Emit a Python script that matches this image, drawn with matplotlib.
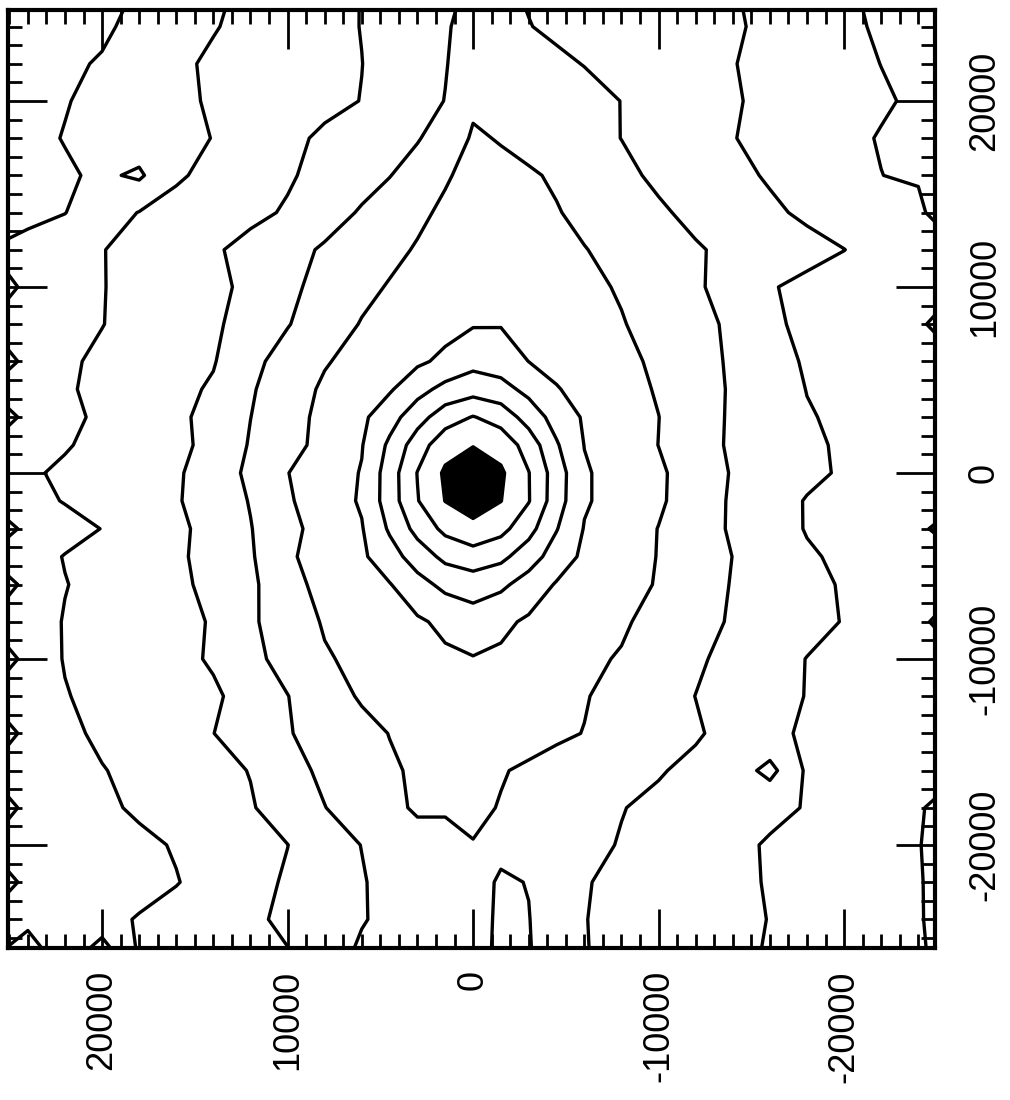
import numpy as np
import matplotlib
matplotlib.use("Agg")
import matplotlib.pyplot as plt
from matplotlib.ticker import MultipleLocator, FixedLocator, FixedFormatter

plt.rcParams['font.family'] = ['Liberation Sans', 'DejaVu Sans']
plt.rcParams['axes.unicode_minus'] = False

# grid nodes of the map (left -> right, top -> bottom as drawn)
x_nodes = [26000, 24000, 22000, 20000, 18000, 16000, 14000, 12000, 10000, 8000, 6000, 4500, 3000, 1500, 0,
           -1500, -3000, -4500, -6000, -8000, -10000, -12000, -14000, -16000, -18000, -20000, -22000, -24000, -26000]
y_nodes = [26000, 24000, 22000, 20000, 18000, 16000, 14000, 12000, 10000, 8000, 6000, 4500, 3000, 1500, 0,
           -1500, -3000, -4500, -6000, -8000, -10000, -12000, -14000, -16000, -18000, -20000, -22000, -24000, -26000]

# map values, one row per y node
field_rows = [
    [0.5, 0.6, 0.7, 0.8, 1.04, 1.44, 1.84, 2.17, 2.45, 2.73, 3.02, 3.28, 3.53, 3.79, 4.15, 4.1, 3.94, 3.82, 3.7, 3.54, 3.37, 3.21, 3.05, 2.76, 2.41, 2.06, 1.9, 1.8, 1.7],
    [0.6, 0.7, 0.8, 0.9, 1.17, 1.56, 1.95, 2.23, 2.49, 2.75, 3.02, 3.33, 3.62, 3.92, 4.3, 4.3, 4.02, 3.88, 3.75, 3.59, 3.42, 3.25, 3.09, 2.84, 2.5, 2.16, 1.9, 1.8, 1.7],
    [0.75, 0.8, 0.9, 1.05, 1.45, 1.84, 2.13, 2.34, 2.55, 2.77, 2.99, 3.31, 3.63, 3.96, 4.4, 4.4, 4.3, 4.12, 3.98, 3.75, 3.5, 3.27, 3.03, 2.77, 2.51, 2.25, 1.99, 1.8, 1.7],
    [0.7, 0.8, 0.95, 1.25, 1.54, 1.83, 2.09, 2.32, 2.55, 2.78, 3.02, 3.36, 3.69, 4.02, 4.85, 4.7, 4.5, 4.35, 4.22, 3.99, 3.68, 3.38, 3.07, 2.82, 2.58, 2.34, 2.1, 1.86, 1.7],
    [0.6, 0.75, 1.04, 1.28, 1.53, 1.77, 2.02, 2.41, 2.79, 3.15, 3.47, 3.7, 3.93, 4.47, 5.1, 4.95, 4.72, 4.51, 4.29, 3.99, 3.67, 3.35, 3.03, 2.75, 2.47, 2.2, 1.95, 1.8, 1.7],
    [0.7, 0.8, 0.88, 1.16, 0.85, 1.89, 2.23, 2.57, 2.9, 3.28, 3.67, 3.97, 4.42, 4.91, 5.27, 5.2, 5.1, 4.89, 4.59, 4.2, 3.84, 3.53, 3.22, 2.91, 2.61, 2.31, 2.01, 1.85, 1.75],
    [0.7, 0.8, 0.98, 1.54, 2.03, 2.28, 2.54, 2.79, 3.09, 3.6, 4.09, 4.47, 4.83, 5.15, 5.45, 5.4, 5.3, 5.05, 4.79, 4.46, 4.12, 3.79, 3.47, 3.15, 2.85, 2.65, 2.5, 2.35, 0.6],
    [1.02, 1.25, 1.55, 1.97, 2.28, 2.59, 2.89, 3.27, 3.69, 4.11, 4.49, 4.79, 5.07, 5.35, 5.61, 5.55, 5.4, 5.22, 5.03, 4.73, 4.4, 4.08, 3.8, 3.54, 3.27, 3.01, 2.7, 2.5, 2.35],
    [0.19, 1.3, 1.6, 1.97, 2.25, 2.53, 2.81, 3.18, 3.79, 4.31, 4.78, 5.06, 5.3, 5.55, 5.78, 5.75, 5.6, 5.4, 5.2, 4.92, 4.51, 4.13, 3.62, 3.06, 2.8, 2.65, 2.5, 2.35, 2.25],
    [1.1, 1.35, 1.65, 1.98, 2.28, 2.58, 2.87, 3.34, 3.95, 4.54, 5.05, 5.3, 5.5, 5.7, 5.93, 5.95, 5.75, 5.55, 5.35, 5.05, 4.68, 4.29, 3.83, 3.12, 2.85, 2.7, 2.55, 2.4, 0.6],
    [0.19, 1.3, 1.87, 2.15, 2.42, 2.68, 2.94, 3.74, 4.39, 4.93, 5.31, 5.58, 5.84, 6.2, 6.68, 6.5, 5.99, 5.76, 5.53, 5.22, 4.84, 4.36, 3.87, 3.35, 2.9, 2.75, 2.6, 2.45, 2.35],
    [1.1, 1.3, 1.9, 2.2, 2.48, 2.76, 3.11, 3.9, 4.55, 5.14, 5.56, 5.89, 6.65, 7.3, 7.6, 7.35, 6.72, 6.05, 5.73, 5.34, 4.92, 4.4, 3.9, 3.44, 2.98, 2.8, 2.65, 2.5, 2.4],
    [-0.08, 1.4, 1.8, 2.15, 2.48, 2.81, 3.29, 3.99, 4.64, 5.25, 5.81, 6.6, 7.6, 8.55, 9.05, 8.6, 7.58, 6.61, 5.89, 5.46, 5.01, 4.42, 3.88, 3.47, 3.06, 2.85, 2.7, 2.55, 2.45],
    [1.1, 1.45, 1.93, 2.24, 2.52, 2.8, 3.24, 4.08, 4.67, 5.3, 5.95, 7.19, 8.53, 9.62, 9.9, 9.62, 8.59, 7.1, 5.98, 5.51, 4.99, 4.39, 3.87, 3.52, 3.16, 2.88, 2.75, 2.6, 2.5],
    [1.3, 1.88, 2.14, 2.39, 2.64, 2.89, 3.43, 4.21, 4.98, 5.51, 6.05, 7.5, 9.03, 10.15, 11.5, 10.15, 9.03, 7.5, 6.1, 5.6, 5.14, 4.55, 3.93, 3.56, 3.19, 2.9, 2.75, 2.6, 2.5],
    [1.2, 1.7, 2.05, 2.34, 2.63, 2.92, 3.44, 4.05, 4.89, 5.5, 6.1, 7.5, 8.95, 10.02, 10.6, 10.02, 9.05, 7.45, 6.1, 5.6, 5.13, 4.52, 3.88, 3.37, 2.95, 2.8, 2.7, 2.55, 2.45],
    [-0.08, 1.4, 1.65, 2.02, 2.41, 2.8, 3.32, 3.96, 4.73, 5.38, 5.94, 7.13, 8.32, 9.25, 9.65, 9.3, 8.35, 7.05, 5.95, 5.47, 4.98, 4.43, 3.89, 3.4, 2.95, 2.8, 2.7, 2.55, 0.6],
    [1.2, 1.6, 2.04, 2.31, 2.59, 2.86, 3.29, 3.89, 4.86, 5.4, 5.84, 6.58, 7.46, 8.25, 8.6, 8.25, 7.45, 6.55, 5.8, 5.38, 4.97, 4.47, 3.99, 3.55, 3.1, 2.85, 2.72, 2.58, 2.48],
    [-0.62, 1.6, 1.97, 2.26, 2.54, 2.82, 3.22, 3.8, 4.69, 5.28, 5.66, 5.95, 6.65, 7.25, 7.45, 7.2, 6.58, 5.92, 5.65, 5.3, 4.94, 4.43, 3.95, 3.6, 3.25, 2.92, 2.78, 2.62, 2.52],
    [1.2, 1.55, 2.05, 2.29, 2.54, 2.78, 3.06, 3.85, 4.51, 5.08, 5.4, 5.64, 5.87, 6.2, 6.55, 6.2, 5.86, 5.64, 5.41, 5.11, 4.72, 4.3, 3.91, 3.59, 3.27, 2.96, 2.8, 2.65, 0.5],
    [-0.49, 1.55, 2.04, 2.29, 2.54, 2.78, 3.09, 3.74, 4.34, 4.92, 5.2, 5.4, 5.6, 5.85, 5.95, 5.85, 5.6, 5.35, 5.15, 4.94, 4.47, 4.13, 3.74, 3.36, 2.98, 2.8, 2.68, 2.55, 2.45],
    [1.25, 1.6, 1.96, 2.21, 2.43, 2.66, 2.88, 3.32, 3.98, 4.58, 5.1, 5.3, 5.5, 5.66, 5.75, 5.66, 5.45, 5.25, 5.05, 4.72, 4.36, 3.99, 3.65, 3.31, 2.97, 2.8, 2.68, 2.55, 2.45],
    [-0.35, 1.5, 1.8, 2.16, 2.44, 2.71, 2.99, 3.45, 3.94, 4.34, 4.73, 5.02, 5.25, 5.42, 5.56, 5.45, 5.3, 5.13, 4.98, 4.7, 4.4, 4.1, 3.69, 3.2, 2.88, 2.75, 2.65, 2.55, 2.45],
    [1.15, 1.4, 1.7, 1.96, 2.23, 2.49, 2.75, 3.03, 3.66, 4.19, 4.59, 4.89, 5.12, 5.28, 5.35, 5.05, 4.88, 4.71, 4.54, 4.31, 4.07, 3.78, 3.46, 4.3, 2.85, 2.72, 2.62, 2.52, 2.42],
    [0.19, 1.3, 1.55, 1.82, 2.14, 2.4, 2.66, 2.93, 3.41, 3.98, 4.46, 4.81, 5.1, 5.05, 5.16, 4.96, 4.75, 4.54, 4.32, 4.03, 3.81, 3.6, 3.38, 3.17, 2.96, 2.78, 2.66, 2.25, 0.8],
    [1.1, 1.25, 1.4, 1.6, 1.8, 2.07, 2.38, 2.69, 2.99, 3.52, 4.02, 4.4, 4.7, 4.85, 4.97, 4.85, 4.7, 4.45, 4.22, 3.95, 3.69, 3.43, 3.17, 2.93, 2.8, 2.7, 2.6, 2.1, 0.8],
    [0.46, 1.2, 1.35, 1.5, 1.7, 1.96, 2.34, 2.71, 3.1, 3.52, 3.93, 4.3, 4.55, 4.7, 4.75, 5.08, 4.98, 4.5, 4.05, 3.81, 3.59, 3.37, 3.16, 2.95, 2.82, 2.7, 2.6, 2.15, 1.0],
    [1.15, 1.3, 1.5, 1.75, 2.06, 2.33, 2.59, 2.85, 3.16, 3.55, 3.93, 4.25, 4.45, 4.6, 4.72, 5.12, 5.02, 4.6, 4.02, 3.8, 3.59, 3.39, 3.19, 2.98, 2.85, 2.72, 2.6, 2.2, 0.8],
    [1.1, 0.3, 1.55, 0.2, 2.12, 2.32, 2.53, 2.73, 2.94, 3.52, 4.2, 4.4, 4.55, 4.65, 4.72, 5.15, 5.05, 4.6, 4.03, 3.81, 3.56, 3.34, 3.14, 2.95, 2.82, 2.7, 2.6, 2.3, 1.0],
]

line_levels = [1, 2, 3, 4, 5, 6, 7, 8, 9, 10]
core_levels = [10, 100]   # innermost region drawn solid
tick_values = [-20000, -10000, 0, 10000, 20000]
tick_labels = ['-20000', '-10000', '0', '10000', '20000']

Z = np.array(field_rows)
X, Y = np.meshgrid(x_nodes, y_nodes)

fig = plt.figure(figsize=(10.1, 11.0), dpi=100)
ax = fig.add_axes([8 / 1010, 1 - 948 / 1100, 927 / 1010, 938 / 1100])

ax.contourf(X, Y, Z, levels=core_levels, colors='black')
ax.contour(X, Y, Z, levels=line_levels, colors='black', linewidths=2.4)

ax.set_xlim(25070, -24900)
ax.set_ylim(-25540, 24890)

# ticks on all four sides, labels bottom and right
ax.xaxis.set_major_locator(FixedLocator(tick_values))
ax.xaxis.set_major_formatter(FixedFormatter(tick_labels))
ax.xaxis.set_minor_locator(MultipleLocator(1000))
ax.yaxis.set_major_locator(FixedLocator(tick_values))
ax.yaxis.set_major_formatter(FixedFormatter(tick_labels))
ax.yaxis.set_minor_locator(MultipleLocator(1000))

ax.tick_params(which='both', direction='in', top=True, bottom=True, left=True, right=True,
               labelbottom=True, labeltop=False, labelleft=False, labelright=True, width=2)
ax.tick_params(which='major', length=28)
ax.tick_params(which='minor', length=10)
ax.tick_params(axis='x', which='major', pad=16, labelsize=26, labelrotation=90)
ax.tick_params(axis='y', which='major', pad=23, labelsize=26, labelrotation=90)
for lab in ax.get_yticklabels():
    lab.set_va('center')

for sp in ax.spines.values():
    sp.set_linewidth(3)

fig.savefig('out.png', dpi=100)
